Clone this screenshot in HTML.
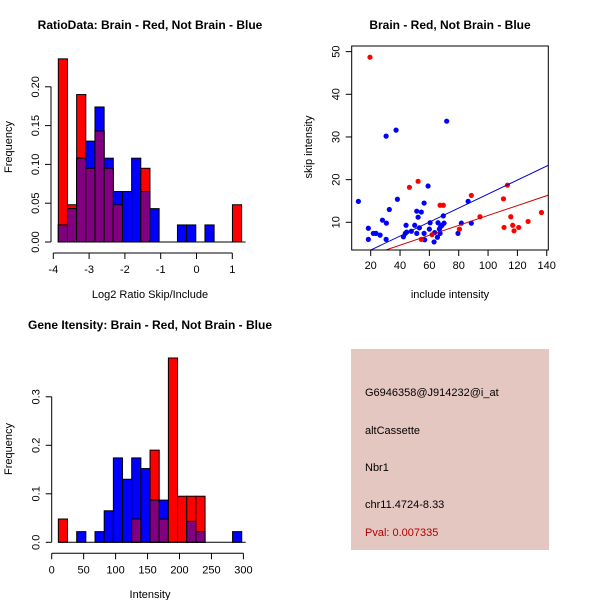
<!DOCTYPE html>
<html><head><meta charset="utf-8"><style>
body{margin:0;background:#fff;}
svg{display:block;font-family:"Liberation Sans",sans-serif;}
</style></head><body>
<svg id="c" width="600" height="600" xmlns="http://www.w3.org/2000/svg">
<rect width="600" height="600" fill="#fff"/>
<g id="p1"></g>
<g id="p2"></g>
<g id="p3"></g>
<g>
<rect x="351" y="349" width="198" height="201" fill="#e5c7c1"/>
<text x="365" y="396" font-size="11">G6946358@J914232@i_at</text>
<text x="365" y="434" font-size="11">altCassette</text>
<text x="365" y="471" font-size="11">Nbr1</text>
<text x="365" y="508" font-size="11">chr11.4724-8.33</text>
<text x="365" y="536" font-size="11" fill="#b00000">Pval: 0.007335</text>
</g>
</svg>
<script>
// ---- Plot 1 data ----
const ratioBreakStart = -3.86, ratioBinWidth = 0.256;
const ratioRed  = [0.236,0.048,0.19,0.095,0.143,0.095,0.048,0,0,0.095,0,0,0,0,0,0,0,0,0,0.048];
const ratioBlue = [0.022,0.043,0.108,0.13,0.174,0.108,0.065,0.065,0.108,0.065,0.043,0,0,0.022,0.022,0,0.022,0,0,0];
const ratioXTicks = [-4,-3,-2,-1,0,1];
const ratioYTicks = [0,0.05,0.10,0.15,0.20];
const ratioYLabels = ["0.00","0.05","0.10","0.15","0.20"];
// ---- Plot 3 data ----
const intBreakStart = 10.4, intBinWidth = 14.35;
const intRed  = [0.048,0,0,0,0,0,0,0,0.048,0,0.19,0.048,0.38,0.095,0.095,0.095,0,0,0,0];
const intBlue = [0,0,0.022,0,0.022,0.065,0.174,0.13,0.174,0.152,0.087,0.087,0,0,0.043,0.022,0,0,0,0.022];
const intXTicks = [0,50,100,150,200,250,300];
const intYTicks = [0,0.1,0.2,0.3];
const intYLabels = ["0.0","0.1","0.2","0.3"];
// ---- Plot 2 data ----
const blueX = [11.6,18.4,18.4,21.8,23.6,26.4,28.0,30.7,30.5,30.5,32.7,37.3,38.2,42.3,43.6,44.1,44.5,47.7,50.0,51.4,52.3,53.2,54.5,51.4,56.4,56.4,56.8,59.1,60.0,60.5,63.2,63.6,65.5,65.9,66.8,67.3,67.7,68.6,69.5,70.0,71.8,79.5,81.8,86.4,88.6];
const blueY = [14.9,8.6,6.0,7.4,7.4,7.0,10.5,9.8,30.2,6.0,13.0,31.6,15.4,6.6,7.4,9.3,7.7,7.9,9.3,12.6,11.2,8.7,12.4,7.4,7.4,14.5,5.9,18.5,8.4,9.9,5.4,7.6,6.5,9.9,8.4,7.4,9.0,9.3,11.5,9.8,33.7,7.4,9.8,14.9,9.8];
const redX = [19.5,46.4,52.3,54.5,61.8,67.3,69.5,80.5,88.6,94.5,110.5,110.9,115.5,116.8,117.7,120.9,127.3,136.4,113.2];
const redY = [48.7,18.2,19.6,6.0,7.1,14.0,14.0,8.4,16.3,11.3,15.5,8.8,11.3,9.3,8.0,8.8,10.2,12.3,18.7];
const blueFit = [0.22,0.164];
const redFit = [-0.0,0.116];
const scXTicks = [20,40,60,80,100,120,140];
const scYTicks = [10,20,30,40,50];

const NS="http://www.w3.org/2000/svg";
function mk(parent,tag,attrs,txt){const e=document.createElementNS(NS,tag);for(const k in attrs)e.setAttribute(k,attrs[k]);if(txt!==undefined)e.textContent=txt;parent.appendChild(e);return e;}

function hist(g,o){
  const sx=v=>o.x0+(v-o.xmin)*o.kx, sy=v=>o.y0-v*o.ky;
  for(let i=0;i<o.red.length;i++){
    const a=o.bs+i*o.bw,b=a+o.bw,x=sx(a),w=sx(b)-x;
    const r=o.red[i],bl=o.blue[i];
    if(r>0){const e=mk(g,'rect',{x:x,y:sy(r),width:w,height:sy(0)-sy(r),fill:'#ff0000',stroke:'#000','stroke-width':1});
      
      }
    if(bl>0){const e=mk(g,'rect',{x:x,y:sy(bl),width:w,height:sy(0)-sy(bl),fill:'#0000ff',stroke:'#000','stroke-width':1});
      
      
      if(r>bl){e.setAttribute('fill','#800080');}}
    const m=Math.min(r,bl);
    if(m>0){const e=mk(g,'rect',{x:x,y:sy(m),width:w,height:sy(0)-sy(m),fill:'#800080',stroke:'#000','stroke-width':1});
      
      }
  }
  // baseline
  mk(g,'line',{x1:sx(o.bs),x2:sx(o.bs+o.red.length*o.bw)+4,y1:sy(0),y2:sy(0),stroke:'#000'});
  // y axis
  const ya=mk(g,'g',{});
  mk(ya,'line',{x1:o.ax,x2:o.ax,y1:sy(o.yt[0]),y2:sy(o.yt[o.yt.length-1]),stroke:'#000'});
  o.yt.forEach((v,i)=>{mk(ya,'line',{x1:o.ax-6,x2:o.ax,y1:sy(v),y2:sy(v),stroke:'#000'});
    mk(ya,'text',{x:0,y:0,'font-size':11,'text-anchor':'middle',transform:`translate(${o.ax-12},${sy(v)}) rotate(-90)`},o.yl[i]);});
  const xa=mk(g,'g',{});
  const ay=o.y0+11;
  mk(xa,'line',{x1:sx(o.xt[0]),x2:sx(o.xt[o.xt.length-1]),y1:ay,y2:ay,stroke:'#000'});
  o.xt.forEach(v=>{mk(xa,'line',{x1:sx(v),x2:sx(v),y1:ay,y2:ay+6,stroke:'#000'});
    mk(xa,'text',{x:sx(v),y:ay+20,'font-size':11,'text-anchor':'middle'},String(v));});
}

const p1=document.getElementById('p1');
hist(p1,{x0:53.3,xmin:-4,kx:35.8,y0:242,ky:776,bs:ratioBreakStart,bw:ratioBinWidth,red:ratioRed,blue:ratioBlue,ax:51,yt:ratioYTicks,yl:ratioYLabels,xt:ratioXTicks});
mk(p1,'text',{x:150,y:29,'font-size':12,'font-weight':'bold','text-anchor':'middle'},'RatioData: Brain - Red, Not Brain - Blue');
mk(p1,'text',{x:150,y:298,'font-size':11,'text-anchor':'middle'},'Log2 Ratio Skip/Include');
mk(p1,'text',{x:0,y:0,'font-size':11,'text-anchor':'middle',transform:'translate(12,147) rotate(-90)'},'Frequency');

const p3=document.getElementById('p3');
hist(p3,{x0:51.7,xmin:0,kx:0.639,y0:542.3,ky:485,bs:intBreakStart,bw:intBinWidth,red:intRed,blue:intBlue,ax:51.7,yt:intYTicks,yl:intYLabels,xt:intXTicks});
mk(p3,'text',{x:150,y:329,'font-size':12,'font-weight':'bold','text-anchor':'middle'},'Gene Itensity: Brain - Red, Not Brain - Blue');
mk(p3,'text',{x:150,y:598,'font-size':11,'text-anchor':'middle'},'Intensity');
mk(p3,'text',{x:0,y:0,'font-size':11,'text-anchor':'middle',transform:'translate(12,449) rotate(-90)'},'Frequency');

// scatter
const p2=document.getElementById('p2');
const L=351.7,R=548.3,T=46,B=250;
const sx=v=>370.7+(v-20)*1.467, sy=v=>222.3-(v-10)*4.267;
mk(p2,'text',{x:450,y:29,'font-size':12,'font-weight':'bold','text-anchor':'middle'},'Brain - Red, Not Brain - Blue');
mk(p2,'defs',{}).innerHTML='<clipPath id="cl"><rect x="'+L+'" y="'+T+'" width="'+(R-L)+'" height="'+(B-T)+'"/></clipPath>';
const pts=mk(p2,'g',{'clip-path':'url(#cl)'});
blueX.forEach((v,i)=>{const e=mk(pts,'circle',{cx:sx(v),cy:sy(blueY[i]),r:2.6,fill:'#0000ff'});
  
  });
redX.forEach((v,i)=>{const e=mk(pts,'circle',{cx:sx(v),cy:sy(redY[i]),r:2.6,fill:'#ff0000'});
  
  });
const xs0=0,xs1=160;
const bl=mk(pts,'line',{x1:sx(xs0),y1:sy(blueFit[0]+blueFit[1]*xs0),x2:sx(xs1),y2:sy(blueFit[0]+blueFit[1]*xs1),stroke:'#0000cc','stroke-width':1});

const rl=mk(pts,'line',{x1:sx(xs0),y1:sy(redFit[0]+redFit[1]*xs0),x2:sx(xs1),y2:sy(redFit[0]+redFit[1]*xs1),stroke:'#cc0000','stroke-width':1});

mk(p2,'rect',{x:L,y:T,width:R-L,height:B-T,fill:'none',stroke:'#000'});
scXTicks.forEach(v=>{mk(p2,'line',{x1:sx(v),x2:sx(v),y1:B,y2:B+6,stroke:'#000'});
  mk(p2,'text',{x:sx(v),y:B+19,'font-size':11,'text-anchor':'middle'},String(v));});
scYTicks.forEach(v=>{mk(p2,'line',{x1:L-6,x2:L,y1:sy(v),y2:sy(v),stroke:'#000'});
  mk(p2,'text',{x:0,y:0,'font-size':11,'text-anchor':'middle',transform:`translate(${L-12},${sy(v)}) rotate(-90)`},String(v));});
mk(p2,'text',{x:450,y:298,'font-size':11,'text-anchor':'middle'},'include intensity');
mk(p2,'text',{x:0,y:0,'font-size':11,'text-anchor':'middle',transform:'translate(312,147) rotate(-90)'},'skip intensity');
</script>
</body></html>
